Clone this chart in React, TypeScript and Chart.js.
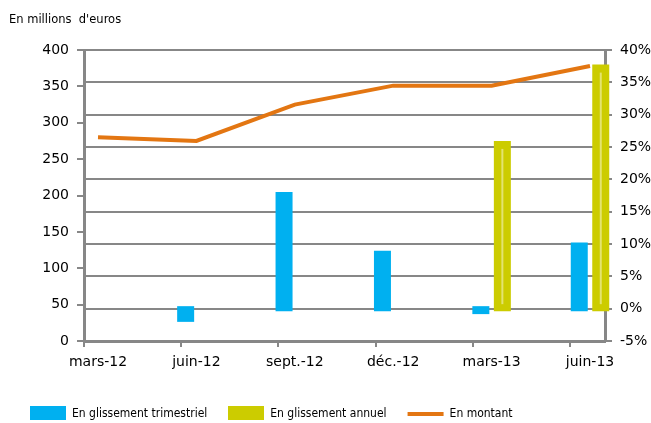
import React, { useEffect, useRef } from 'react';
import { Chart, registerables } from 'chart.js';

Chart.register(...registerables);

// ---- data ----
const categories = ['mars-12', 'juin-12', 'sept.-12', 'déc.-12', 'mars-13', 'juin-13'];
const montant = [280, 275, 325, 351, 351, 378]; // millions d'euros (left axis)
const trimestriel: (number | null)[] = [null, -1.5, 17.5, 8.4, -0.3, 9.7]; // % (right axis)
const annuel: (number | null)[] = [null, null, null, null, 25.4, 37.2]; // % (right axis)
const seriesNames = ['En glissement trimestriel', 'En glissement annuel', 'En montant'];
const titleText = "En millions  d'euros";

const BLUE = '#00B0F0';
const YELLOW = '#CCCC00';
const ORANGE = '#E37612';
const GRAY = '#878787';
const FONT = 'DejaVu Sans';
const LEGEND_FONT = "'DejaVu Sans Condensed', 'DejaVu Sans'";

const toPoints = (arr: (number | null)[]) =>
  arr.map((v, i) => ({ x: i, y: v })).filter((p) => p.y !== null);

export default function App() {
  const ref = useRef<HTMLCanvasElement>(null);

  useEffect(() => {
    if (!ref.current) return;
    Chart.defaults.font.family = FONT;

    const swatch = (color: string) => {
      const c = document.createElement('canvas');
      c.width = 36;
      c.height = 16;
      const g = c.getContext('2d')!;
      g.fillStyle = color;
      g.fillRect(0, 0, 36, 16);
      return c;
    };
    const legendStyles: any[] = [swatch(BLUE), swatch(YELLOW), 'line'];

    const glow = {
      id: 'glow',
      afterDatasetDraw(chart: any, args: any) {
        if (args.index !== 1) return;
        const ctx = chart.ctx;
        ctx.save();
        ctx.strokeStyle = 'rgba(235,235,150,0.75)';
        ctx.lineWidth = 2;
        args.meta.data.forEach((el: any) => {
          const { x, y, base } = el.getProps(['x', 'y', 'base'], true);
          const top = Math.min(y, base) + 4.5;
          const bot = Math.max(y, base) - 3.5;
          if (bot > top) {
            ctx.beginPath();
            ctx.moveTo(x, top);
            ctx.lineTo(x, bot);
            ctx.stroke();
          }
        });
        ctx.restore();
      },
    };

    const chart = new Chart(ref.current, {
      type: 'line',
      data: {
        datasets: [
          {
            type: 'bar',
            label: seriesNames[0],
            data: toPoints(trimestriel) as any,
            xAxisID: 'xd',
            yAxisID: 'y1',
            backgroundColor: BLUE,
            borderWidth: 0,
            inflateAmount: 3.5,
            categoryPercentage: 0.437,
            barPercentage: 0.465,
            clip: false as any,
            order: 1,
          } as any,
          {
            type: 'bar',
            label: seriesNames[1],
            data: toPoints(annuel) as any,
            xAxisID: 'xd',
            yAxisID: 'y1',
            backgroundColor: YELLOW,
            borderWidth: 0,
            inflateAmount: 3.5,
            categoryPercentage: 0.437,
            barPercentage: 0.465,
            clip: false as any,
            order: 1,
          } as any,
          {
            type: 'line',
            label: seriesNames[2],
            data: montant.map((v, i) => ({ x: i, y: v })) as any,
            xAxisID: 'xd',
            yAxisID: 'y',
            borderColor: ORANGE,
            backgroundColor: ORANGE,
            borderWidth: 4,
            pointRadius: 0,
            pointHoverRadius: 0,
            tension: 0,
            fill: false,
            clip: false as any,
            order: 0,
          } as any,
        ],
      },
      options: {
        responsive: false,
        devicePixelRatio: 1,
        animation: false,
        events: [],
        layout: { padding: { left: 9, right: 0, top: 0, bottom: 3 } },
        scales: {
          x: {
            type: 'linear',
            position: 'bottom',
            weight: 0,
            min: 0,
            max: 5.36,
            offset: false,
            ticks: { display: false, stepSize: 1, includeBounds: false },
            grid: { drawOnChartArea: false, color: GRAY, lineWidth: 2, tickLength: 6, offset: false },
            border: { color: GRAY, width: 3 },
            afterFit: (s: any) => { s.height = 0; },
          } as any,
          xd: {
            type: 'linear',
            position: 'bottom',
            weight: 1,
            min: -0.1423,
            max: 5.1524,
            offset: false,
            ticks: {
              stepSize: 1,
              includeBounds: false,
              autoSkip: false,
              maxRotation: 0,
              minRotation: 0,
              padding: 13,
              color: '#000',
              font: { size: 14, family: FONT },
              callback: (v: any) => categories[Math.round(Number(v))] ?? '',
            },
            grid: { display: false, drawTicks: false, offset: false },
            border: { display: false },
            afterFit: (s: any) => { s.height = 46; },
          } as any,
          y: {
            type: 'linear',
            position: 'left',
            min: 0,
            max: 400,
            ticks: { stepSize: 50, color: '#000', padding: 8, font: { size: 14, family: FONT } },
            grid: { drawOnChartArea: false, color: GRAY, lineWidth: 2, tickLength: 7 },
            border: { color: GRAY, width: 3 },
            afterFit: (s: any) => { s.width = 75; },
          } as any,
          y1: {
            type: 'linear',
            position: 'right',
            min: -5,
            max: 40,
            ticks: {
              stepSize: 5,
              color: '#000',
              padding: 8,
              font: { size: 14, family: FONT },
              callback: (v: any) => `${v}%`,
            },
            grid: { drawOnChartArea: true, color: GRAY, lineWidth: 2, tickLength: 7 },
            border: { color: GRAY, width: 3 },
            afterFit: (s: any) => { s.width = 46; },
          } as any,
        },
        plugins: {
          title: {
            display: true,
            text: titleText,
            align: 'start',
            color: '#000',
            font: { size: 11.5, weight: 'normal', family: FONT },
            padding: { top: 13, bottom: 23.2 },
          },
          legend: {
            display: true,
            position: 'bottom',
            align: 'start',
            maxHeight: 33,
            labels: {
              usePointStyle: true,
              pointStyleWidth: 36,
              padding: 21,
              color: '#000',
              font: { size: 12, family: LEGEND_FONT },
              generateLabels: (c: any) =>
                c.data.datasets.map((ds: any, i: number) => ({
                  text: ds.label,
                  fillStyle: i === 2 ? ORANGE : ds.backgroundColor,
                  strokeStyle: i === 2 ? ORANGE : ds.backgroundColor,
                  lineWidth: i === 2 ? 4 : 0,
                  pointStyle: legendStyles[i],
                  hidden: false,
                  datasetIndex: i,
                })),
            },
          } as any,
          tooltip: { enabled: false },
        },
      } as any,
      plugins: [glow],
    });

    return () => chart.destroy();
  }, []);

  return (
    <div style={{ position: 'fixed', left: 0, top: 0, width: 651, height: 423, background: '#fff' }}>
      <canvas ref={ref} width={651} height={423} style={{ display: 'block' }} />
    </div>
  );
}
